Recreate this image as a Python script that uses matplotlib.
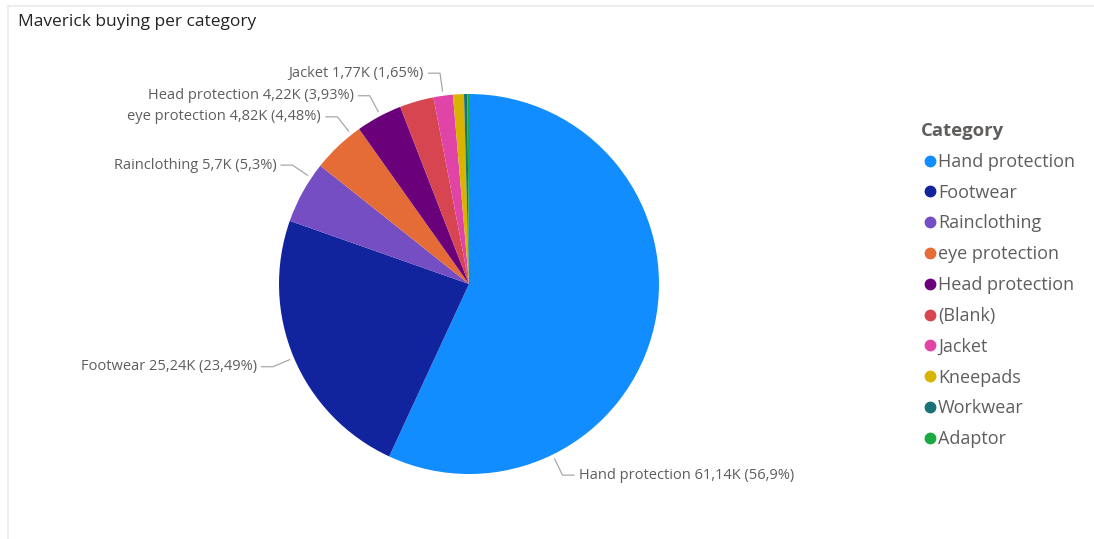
import numpy as np
import matplotlib
matplotlib.use("Agg")
import matplotlib.pyplot as plt
from matplotlib.lines import Line2D

categories = ["Hand protection", "Footwear", "Rainclothing", "eye protection",
              "Head protection", "(Blank)", "Jacket", "Kneepads", "Workwear", "Adaptor"]
values_k = [61.14, 25.24, 5.7, 4.82, 4.22, 3.11, 1.77, 1.0, 0.3, 0.15]
value_labels = ["61,14K", "25,24K", "5,7K", "4,82K", "4,22K", "", "1,77K", "", "", ""]
pct_labels = ["56,9%", "23,49%", "5,3%", "4,48%", "3,93%", "", "1,65%", "", "", ""]
colors = ["#118DFF", "#12239E", "#744EC2", "#E66C37", "#6B007B",
          "#D64550", "#E044A7", "#D9B300", "#197278", "#1AAB40"]

# layout: shift of leader-line angle away from wedge mid-angle (degrees)
leader_shift = {"Hand protection": -51.5, "eye protection": -5.2, "Rainclothing": -5.0,
                "Head protection": -0.5}

plt.rcParams['font.family'] = ['Open Sans', 'DejaVu Sans']

W, H = 1094, 539
fig = plt.figure(figsize=(W / 100, H / 100), dpi=100)

cx, cy, R = 469, 284, 190
ax = fig.add_axes([(cx - R) / W, (H - cy - R) / H, 2 * R / W, 2 * R / H])
wedges, _ = ax.pie(values_k, colors=colors, startangle=90, counterclock=False,
                   radius=1.0, wedgeprops=dict(linewidth=0))
ax.set_xlim(-1, 1)
ax.set_ylim(-1, 1)
ax.set_aspect('equal')
ax.axis('off')

label_color = "#605E5C"
line_color = "#A8A8A8"
for w, cat, v, p in zip(wedges, categories, value_labels, pct_labels):
    if not v:
        continue
    deg = (w.theta1 + w.theta2) / 2 + leader_shift.get(cat, 0.0)
    ang = np.deg2rad(deg)
    x0, y0 = np.cos(ang) * 1.025, np.sin(ang) * 1.025
    x1, y1 = np.cos(ang) * 1.12, np.sin(ang) * 1.12
    sgn = 1 if x1 > 0 else -1
    x2 = x1 + sgn * 0.06
    ax.plot([x0, x1, x2], [y0, y1, y1], color=line_color, lw=0.9, clip_on=False)
    ax.text(x2 + sgn * 0.025, y1, f"{cat} {v} ({p})", ha='left' if sgn > 0 else 'right',
            va='center', fontsize=10.5, color=label_color, clip_on=False)

# title
fig.text(18 / W, 1 - 22 / H, "Maverick buying per category", fontsize=12.5,
         color="#252423", ha='left', va='center')

# legend
handles = [Line2D([0], [0], marker='o', linestyle='none', markersize=7.5,
                  markerfacecolor=c, markeredgecolor=c) for c in colors]
leg = fig.legend(handles, categories, loc='upper left',
                 bbox_to_anchor=(921 / W, 1 - 122 / H), frameon=False,
                 title="Category", alignment='left', fontsize=13,
                 handletextpad=0.0, handlelength=0.95, labelspacing=0.71,
                 borderaxespad=0, borderpad=0)
for t in leg.get_texts():
    t.set_color(label_color)
leg.get_title().set_fontsize(13.3)
leg.get_title().set_fontweight('bold')
leg.get_title().set_color(label_color)

# light frame lines (top and left)
fig.add_artist(Line2D([8 / W, 1], [1 - 6 / H, 1 - 6 / H], transform=fig.transFigure,
                      color="#EDEDED", lw=1.5))
fig.add_artist(Line2D([8 / W, 8 / W], [0, 1 - 6 / H], transform=fig.transFigure,
                      color="#EDEDED", lw=1.5))

fig.savefig("out.png", dpi=100)
